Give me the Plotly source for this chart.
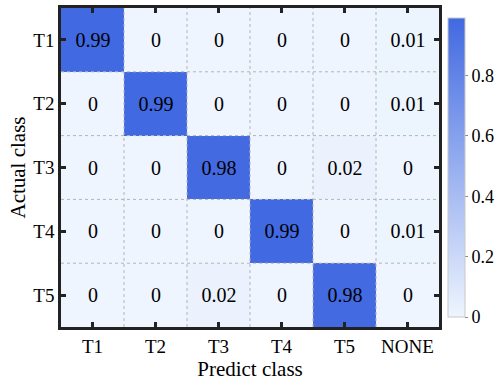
import plotly.graph_objects as go

# Confusion matrix: rows = actual class, columns = predicted class
pred_labels = ["T1", "T2", "T3", "T4", "T5", "NONE"]
actual_labels = ["T1", "T2", "T3", "T4", "T5"]
row_t1 = [0.99, 0, 0, 0, 0, 0.01]
row_t2 = [0, 0.99, 0, 0, 0, 0.01]
row_t3 = [0, 0, 0.98, 0, 0.02, 0]
row_t4 = [0, 0, 0, 0.99, 0, 0.01]
row_t5 = [0, 0, 0.02, 0, 0.98, 0]
matrix = [row_t1, row_t2, row_t3, row_t4, row_t5]

FONT = "Times New Roman, Liberation Serif, DejaVu Serif, serif"
text = [[f"{v:g}" for v in row] for row in matrix]
xs = list(range(len(pred_labels)))
ys = list(range(len(actual_labels)))

fig = go.Figure(go.Heatmap(
    z=matrix, x=xs, y=ys,
    text=text, texttemplate="%{text}",
    textfont=dict(family=FONT, size=20, color="black"),
    colorscale=[[0, "#EEF5FE"], [1, "#4169E1"]],
    zmin=0, zmax=0.99,
    colorbar=dict(
        x=1.023, xref="paper", xanchor="left", xpad=0,
        thickness=17, len=1, y=0.5, yanchor="middle",
        outlinecolor="#C8C8C8", outlinewidth=1,
        tickvals=[0, 0.2, 0.4, 0.6, 0.8], ticks="outside", ticklen=3,
        tickcolor="#888", tickfont=dict(family=FONT, size=18, color="black"),
    ),
    hoverinfo="skip",
))

# dotted separators between cells
shapes = []
for i in range(1, len(pred_labels)):
    shapes.append(dict(type="line", xref="x", yref="paper", x0=i - 0.5, x1=i - 0.5,
                       y0=0, y1=1, line=dict(color="#B4B4B4", width=1, dash="dot"), layer="above"))
for j in range(1, len(actual_labels)):
    shapes.append(dict(type="line", xref="paper", yref="y", x0=0, x1=1, y0=j - 0.5, y1=j - 0.5,
                       line=dict(color="#B4B4B4", width=1, dash="dot"), layer="above"))

axis_common = dict(
    showline=True, linecolor="#222", linewidth=2.5, mirror="ticks",
    ticks="inside", ticklen=5, tickwidth=2.5, tickcolor="#222",
    showgrid=False, zeroline=False,
    tickfont=dict(family=FONT, size=19, color="black"),
    layer="above traces",
)

fig.update_layout(
    width=500, height=381,
    margin=dict(l=61, r=54, t=5, b=54),
    paper_bgcolor="white", plot_bgcolor="white",
    shapes=shapes,
    xaxis=dict(axis_common, tickvals=xs, ticktext=pred_labels,
               range=[-0.5, len(pred_labels) - 0.5],
               title=dict(text="Predict class", font=dict(family=FONT, size=21, color="black"), standoff=3)),
    yaxis=dict(axis_common, tickvals=ys, ticktext=actual_labels,
               range=[len(actual_labels) - 0.5, -0.5],
               title=dict(text="Actual class", font=dict(family=FONT, size=21, color="black"), standoff=2)),
)

fig.write_html("out.html")
